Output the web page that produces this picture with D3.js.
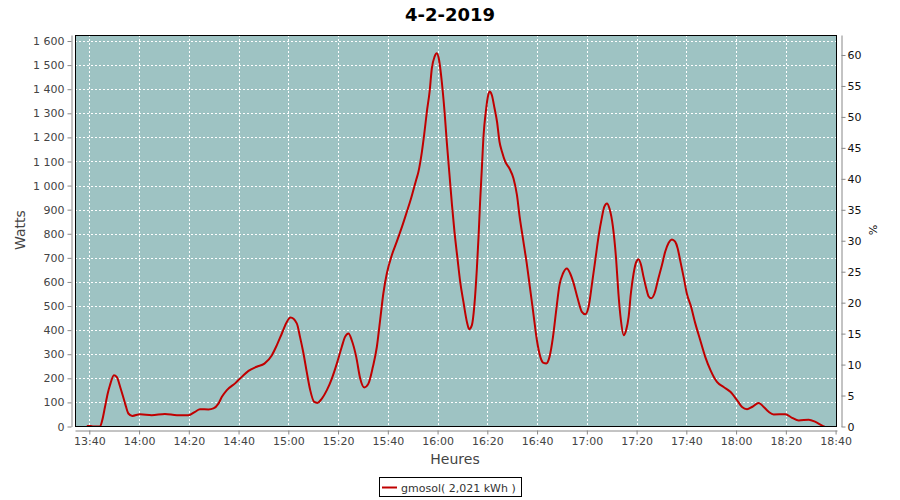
<!DOCTYPE html>
<html>
<head>
<meta charset="utf-8">
<script src="https://cdn.jsdelivr.net/npm/d3@7"></script>
<style>
  html, body { margin: 0; padding: 0; background: #fff; }
  text { font-family: "DejaVu Sans", sans-serif; }
</style>
</head>
<body>
<svg id="chart" width="900" height="500"></svg>
<script>
// ---- data ----
const title = "4-2-2019";
const startTime = "13:40";            // reference clock time for the offsets below
const seriesName = "gmosol( 2,021 kWh )";
// minutes after 13:40
const minutes = [
  -1, 0.5, 1.5, 4.3, 5.2, 6.3, 7.4, 8.3, 9.9, 11.0, 12.6, 14.4, 15.7, 17.3, 20.4, 25.1, 30.4, 35.2, 39.8,
  42.5, 44.5, 47.9, 49.9, 51.9, 53.3, 55.3, 58.6, 61.3, 64.0, 67.3, 70.4, 73.4, 75.4, 77.4, 79.4, 80.9,
  83.4, 84.7, 86.1, 87.4, 88.8, 90.4, 91.7, 93.5, 95.5, 97.5, 99.5, 101.5, 102.8, 104.2, 105.5, 107.3,
  108.9, 110.5, 112.2, 114.0, 115.6, 116.9, 118.2, 119.6, 121.6, 123.6, 125.4, 127.3, 129.3, 131.3,
  132.3, 133.7, 134.6, 135.7, 136.8, 137.7, 138.8, 139.7, 140.6, 141.7, 142.8, 143.7, 144.8, 145.8,
  146.8, 148.0, 149.1, 150.4, 151.8, 152.7, 153.8, 154.8, 155.8, 156.5, 157.1, 157.8, 158.5, 159.4,
  160.1, 160.9, 161.8, 162.9, 163.9, 164.9, 165.9, 167.2, 168.9, 170.5, 171.9, 173.0, 174.4, 175.8,
  177.1, 178.5, 179.9, 181.3, 182.6, 183.7, 185.0, 186.4, 187.7, 189.0, 190.4, 192.0, 193.3, 194.7,
  196.3, 198.0, 199.4, 200.7, 202.1, 203.4, 204.7, 206.1, 207.0, 208.1, 209.1, 210.5, 211.8, 212.7,
  213.7, 214.8, 215.8, 216.8, 217.7, 218.8, 219.9, 220.8, 221.8, 222.8, 223.9, 224.8, 225.9, 227.2,
  228.6, 230.2, 231.5, 232.9, 234.2, 235.5, 236.5, 237.5, 238.9, 240.2, 241.9, 243.6, 245.6, 247.6,
  249.7, 252.3, 255.0, 257.7, 260.4, 262.4, 264.4, 266.4, 269.1, 271.1, 273.1, 275.1, 279.8, 282.5,
  285.2, 289.2, 291.9, 294.6, 295.5
];
const watts = [
  2, 2, 0, 0, 26, 81, 137, 171, 213, 206, 158, 95, 54, 44, 51, 47, 52, 47, 47,
  61, 72, 71, 75, 95, 123, 151, 179, 206, 231, 248, 261, 296, 338, 386, 434, 452,
  428, 372, 303, 227, 151, 102, 98, 116, 151, 199, 261, 331, 372, 386, 358, 289,
  199, 162, 178, 248, 331, 441, 552, 635, 711, 767, 820, 880, 945, 1020,
  1057, 1140, 1210, 1307, 1390, 1487, 1535, 1549, 1521, 1431, 1307, 1182, 1044, 919,
  808, 698, 600, 517, 434, 404, 421, 504, 656, 794, 933, 1071, 1210, 1307,
  1362, 1390, 1376, 1321, 1265, 1182, 1140, 1099, 1071, 1030, 961, 870, 775, 680,
  580, 470, 360, 289, 264, 262, 289, 372, 483, 587, 635, 656, 635, 594,
  532, 476, 466, 497, 594, 691, 788, 870, 912, 926, 905, 829, 691, 552,
  441, 379, 400, 455, 552, 635, 684, 694, 670, 621, 573, 541, 532, 552,
  608, 670, 725, 763, 776, 767, 740, 691, 621, 552, 497, 428, 358, 289,
  234, 185, 164, 144, 109, 81, 72, 81, 98, 81, 61, 50, 51, 36,
  25, 28, 19, 4, 0
];
const xDomainTimes = ["13:34:15", "18:40:34"];
const wattsMax = 1625;
const percentMax = 63.23;
const xLabel = "Heures", yLabel = "Watts", y2Label = "%";

// ---- setup ----
const svg = d3.select("#chart");
const W = 900, H = 500;
const plot = { left: 75, right: 837, top: 35, bottom: 427 };
const parseHMS = d3.timeParse("%H:%M:%S");
const base = parseHMS(startTime + ":00");
const data = minutes.map((m, i) => ({ t: new Date(base.getTime() + m * 60000), v: watts[i] }));

const x = d3.scaleTime().domain(xDomainTimes.map(parseHMS)).range([plot.left, plot.right]);
const y = d3.scaleLinear().domain([0, wattsMax]).range([426.5, plot.top]);
const y2 = d3.scaleLinear().domain([0, percentMax]).range([426.5, plot.top]);

const loc = d3.formatLocale({ decimal: ",", thousands: " ", grouping: [3], currency: ["", ""] });
const fmtW = loc.format(",d");

svg.append("rect").attr("width", W).attr("height", H).attr("fill", "#fff");

// title
svg.append("text").attr("x", 450).attr("y", 21).attr("text-anchor", "middle")
  .attr("font-size", 18).attr("font-weight", "bold").attr("fill", "#000").text(title);

// plot background
svg.append("rect").attr("x", plot.left).attr("y", plot.top)
  .attr("width", plot.right - plot.left).attr("height", plot.bottom - plot.top)
  .attr("fill", "#9ec3c3");

// grid
const xTicks = x.ticks(d3.timeMinute.every(20));
const yTicks = d3.range(0, 1601, 100);
const grid = svg.append("g").attr("stroke", "#fff").attr("stroke-width", 1).attr("stroke-dasharray", "2,2");
grid.selectAll(".gx").data(xTicks).join("line")
  .attr("x1", d => Math.round(x(d)) + 0.5).attr("x2", d => Math.round(x(d)) + 0.5)
  .attr("y1", plot.top).attr("y2", plot.bottom);
grid.selectAll(".gy").data(yTicks).join("line")
  .attr("x1", plot.left).attr("x2", plot.right)
  .attr("y1", d => Math.round(y(d)) + 0.5).attr("y2", d => Math.round(y(d)) + 0.5);

// line
svg.append("clipPath").attr("id", "clip").append("rect")
  .attr("x", plot.left).attr("y", plot.top)
  .attr("width", plot.right - plot.left).attr("height", plot.bottom - plot.top);
const line = d3.line().x(d => x(d.t)).y(d => y(d.v)).curve(d3.curveMonotoneX);
svg.append("path").datum(data).attr("clip-path", "url(#clip)")
  .attr("fill", "none").attr("stroke", "#c00000").attr("stroke-width", 2)
  .attr("stroke-linejoin", "round").attr("d", line);

// plot border
svg.append("rect").attr("x", plot.left + 0.5).attr("y", plot.top + 0.5)
  .attr("width", plot.right - plot.left - 1).attr("height", plot.bottom - plot.top - 1)
  .attr("fill", "none").attr("stroke", "#000").attr("stroke-width", 1);

// axes
function styleAxis(g, color) {
  g.select(".domain").attr("stroke", "#888");
  g.selectAll(".tick line").attr("stroke", "#888");
  g.selectAll(".tick text").attr("fill", color).attr("font-size", 11)
    .attr("font-family", "DejaVu Sans, sans-serif");
}
const yAxisG = svg.append("g").attr("transform", "translate(71.5,0)")
  .call(d3.axisLeft(y).tickValues(yTicks).tickFormat(fmtW).tickSize(4).tickSizeOuter(0).tickPadding(3));
styleAxis(yAxisG, "#444");

const xAxisG = svg.append("g").attr("transform", "translate(0,430.5)")
  .call(d3.axisBottom(x).ticks(d3.timeMinute.every(20)).tickFormat(d3.timeFormat("%H:%M"))
    .tickSize(4).tickSizeOuter(0).tickPadding(3));
styleAxis(xAxisG, "#444");

const y2AxisG = svg.append("g").attr("transform", "translate(841.5,0)")
  .call(d3.axisRight(y2).tickValues(d3.range(0, 61, 5)).tickSize(4).tickSizeOuter(0).tickPadding(2));
styleAxis(y2AxisG, "#111");

// axis labels
svg.append("text").attr("transform", "translate(25,230) rotate(-90)").attr("text-anchor", "middle")
  .attr("font-size", 14).attr("fill", "#444").text(yLabel);
svg.append("text").attr("x", 455).attr("y", 464).attr("text-anchor", "middle")
  .attr("font-size", 14).attr("fill", "#444").text(xLabel);
svg.append("text").attr("transform", "translate(869,230) rotate(90)").attr("text-anchor", "middle")
  .attr("font-size", 11).attr("fill", "#111").text(y2Label);

// legend
const lg = svg.append("g");
lg.append("rect").attr("x", 379.5).attr("y", 477.5).attr("width", 142).attr("height", 19)
  .attr("fill", "#fff").attr("stroke", "#000");
lg.append("line").attr("x1", 382).attr("x2", 397).attr("y1", 487.5).attr("y2", 487.5)
  .attr("stroke", "#c00000").attr("stroke-width", 2);
lg.append("text").attr("x", 401).attr("y", 492).attr("font-size", 11).attr("fill", "#333").text(seriesName);
</script>
</body>
</html>
